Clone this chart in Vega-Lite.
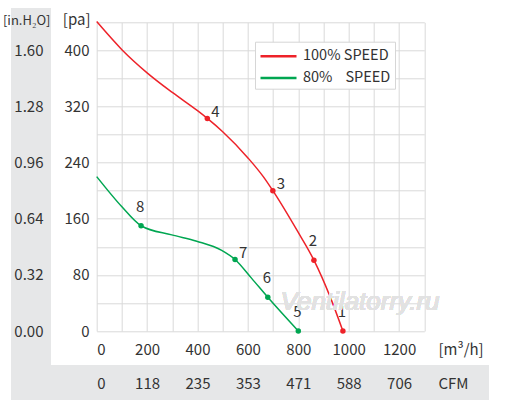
{
  "$schema": "https://vega.github.io/schema/vega-lite/v6.json",
  "width": 327.6,
  "height": 308.7,
  "autosize": {"type": "none"},
  "padding": {"left": 96.7, "top": 22.3, "right": 80.7, "bottom": 78},
  "background": "white",
  "data": {
    "values": [
      {"series": "100%", "flow": 0, "pa": 441, "label": null},
      {"series": "100%", "flow": 100, "pa": 401, "label": null},
      {"series": "100%", "flow": 200, "pa": 368, "label": null},
      {"series": "100%", "flow": 300, "pa": 340, "label": null},
      {"series": "100%", "flow": 400, "pa": 314, "label": null},
      {"series": "100%", "flow": 439, "pa": 303, "label": 4},
      {"series": "100%", "flow": 500, "pa": 284, "label": null},
      {"series": "100%", "flow": 602, "pa": 246, "label": null},
      {"series": "100%", "flow": 661, "pa": 220, "label": null},
      {"series": "100%", "flow": 699, "pa": 200, "label": 3},
      {"series": "100%", "flow": 794, "pa": 144, "label": null},
      {"series": "100%", "flow": 862, "pa": 101, "label": 2},
      {"series": "100%", "flow": 926, "pa": 49, "label": null},
      {"series": "100%", "flow": 977, "pa": 0, "label": 1},
      {"series": "80%", "flow": 0, "pa": 220, "label": null},
      {"series": "80%", "flow": 100, "pa": 177, "label": null},
      {"series": "80%", "flow": 176, "pa": 150, "label": 8},
      {"series": "80%", "flow": 298, "pa": 137, "label": null},
      {"series": "80%", "flow": 397, "pa": 128, "label": null},
      {"series": "80%", "flow": 496, "pa": 115, "label": null},
      {"series": "80%", "flow": 549, "pa": 102, "label": 7},
      {"series": "80%", "flow": 615, "pa": 75, "label": null},
      {"series": "80%", "flow": 679, "pa": 48, "label": 6},
      {"series": "80%", "flow": 800, "pa": 0, "label": 5}
    ]
  },
  "resolve": {"axis": {"x": "independent", "y": "independent"}},
  "layer": [
    {
      "mark": {"type": "rect", "clip": false, "color": "#e6e7e8"},
      "encoding": {
        "x": {"datum": -340.1, "type": "quantitative", "scale": {"domain": [0, 1300], "nice": false, "zero": false}, "axis": null},
        "x2": {"datum": -181.3},
        "y": {"datum": 460.4, "type": "quantitative", "scale": {"domain": [0, 440], "nice": false, "zero": false}, "axis": null},
        "y2": {"datum": -98.4}
      }
    },
    {
      "mark": {"type": "rect", "clip": false, "color": "#e6e7e8"},
      "encoding": {
        "x": {"datum": -181.3, "type": "quantitative", "scale": {"domain": [0, 1300], "nice": false, "zero": false}, "axis": null},
        "x2": {"datum": 1556.7},
        "y": {"datum": -48.5, "type": "quantitative", "scale": {"domain": [0, 440], "nice": false, "zero": false}, "axis": null},
        "y2": {"datum": -98.4}
      }
    },
    {
      "mark": {"type": "line", "interpolate": "monotone", "strokeWidth": 1.5},
      "encoding": {
        "x": {
          "field": "flow", "type": "quantitative",
          "scale": {"domain": [0, 1300], "nice": false, "zero": false},
          "axis": {
            "orient": "bottom",
            "values": [0, 100, 200, 300, 400, 500, 600, 700, 800, 900, 1000, 1100, 1200, 1300],
            "grid": true, "labels": false, "ticks": false, "domain": false, "title": null,
            "gridColor": "#d9d9d9", "gridWidth": 1, "zindex": 0
          }
        },
        "y": {
          "field": "pa", "type": "quantitative",
          "scale": {"domain": [0, 440], "nice": false, "zero": false},
          "axis": {
            "orient": "left",
            "values": [0, 40, 80, 120, 160, 200, 240, 280, 320, 360, 400, 440],
            "grid": true, "labels": false, "ticks": false, "domain": false, "title": null,
            "gridColor": "#d9d9d9", "gridWidth": 1, "zindex": 0
          }
        },
        "color": {
          "field": "series", "type": "nominal",
          "scale": {"domain": ["100%", "80%"], "range": ["#ee2229", "#00a651"]},
          "legend": {
            "title": null,
            "orient": "none",
            "legendX": 158.3,
            "legendY": 19.4,
            "symbolType": "M-1,0H3",
            "symbolSize": 324,
            "symbolStrokeWidth": 2.5,
            "labelFontSize": 14.5,
            "labelFont": "Noto Sans CJK SC",
            "labelColor": "#333333",
            "labelOffset": 23,
            "padding": 4,
            "rowPadding": 4.7,
            "strokeColor": "#d6d6d6",
            "fillColor": "white",
            "labelExpr": "datum.label == '100%' ? '100% SPEED' : '80%\u00a0\u00a0\u00a0 SPEED'"
          }
        }
      }
    },
    {
      "transform": [{"filter": "datum.label != null"}],
      "mark": {"type": "point", "filled": true, "size": 30, "opacity": 1},
      "encoding": {
        "x": {
          "field": "flow", "type": "quantitative",
          "scale": {"domain": [0, 1300], "nice": false, "zero": false},
          "axis": {
            "orient": "bottom",
            "values": [0, 200, 400, 600, 800, 1000, 1200],
            "format": "d",
            "grid": false, "ticks": false, "tickSize": 0, "domain": false,
            "labelPadding": 23.7, "labelBaseline": "alphabetic",
            "labelFontSize": 15, "labelFont": "Noto Sans CJK SC", "labelColor": "#333333",
            "title": "[m³/h]", "titleAngle": 0, "titleAlign": "left", "titleBaseline": "alphabetic",
            "titleX": 341.3, "titleY": 23.7, "titleFontSize": 15, "titleFontWeight": "normal",
            "titleFont": "Noto Sans CJK SC", "titleColor": "#333333", "zindex": 1
          }
        },
        "y": {
          "field": "pa", "type": "quantitative",
          "scale": {"domain": [0, 440], "nice": false, "zero": false},
          "axis": {
            "orient": "left",
            "values": [0, 80, 160, 240, 320, 400],
            "grid": false, "ticks": false, "tickSize": 0, "domain": false,
            "labelPadding": 7.7, "labelBaseline": "middle",
            "labelFontSize": 15, "labelFont": "Noto Sans CJK SC", "labelColor": "#333333",
            "title": "[pa]", "titleAngle": 0, "titleAlign": "right", "titleBaseline": "alphabetic",
            "titleX": -6.7, "titleY": 2.2, "titleFontSize": 15, "titleFontWeight": "normal",
            "titleFont": "Noto Sans CJK SC", "titleColor": "#333333", "zindex": 1
          }
        },
        "color": {"field": "series", "type": "nominal", "legend": null}
      }
    },
    {
      "transform": [{"filter": "indexof([3, 4, 7], datum.label) >= 0"}],
      "mark": {"type": "text", "dx": 8, "dy": -6.5, "align": "center", "baseline": "middle", "fontSize": 15, "font": "Noto Sans CJK SC", "color": "#333333"},
      "encoding": {
        "x": {
          "field": "flow", "type": "quantitative",
          "scale": {"domain": [0, 1300], "nice": false, "zero": false},
          "axis": {
            "orient": "bottom",
            "values": [0, 200, 400, 600, 800, 1000, 1200],
            "grid": false, "ticks": false, "tickSize": 0, "domain": false,
            "labelPadding": 57.3, "labelBaseline": "alphabetic",
            "labelFontSize": 15, "labelFont": "Noto Sans CJK SC", "labelColor": "#333333",
            "labelExpr": "['0', '118', '235', '353', '471', '588', '706'][datum.value / 200]",
            "title": "CFM", "titleAngle": 0, "titleAlign": "left", "titleBaseline": "alphabetic",
            "titleX": 341.3, "titleY": 57.3, "titleFontSize": 15, "titleFontWeight": "normal",
            "titleFont": "Noto Sans CJK SC", "titleColor": "#333333", "zindex": 1
          }
        },
        "y": {
          "field": "pa", "type": "quantitative",
          "scale": {"domain": [0, 440], "nice": false, "zero": false},
          "axis": {
            "orient": "left",
            "values": [0, 80, 160, 240, 320, 400],
            "grid": false, "ticks": false, "tickSize": 0, "domain": false,
            "labelPadding": 53.7, "labelBaseline": "middle",
            "labelFontSize": 15, "labelFont": "Noto Sans CJK SC", "labelColor": "#333333",
            "labelExpr": "format(datum.value * 0.004, '.2f')",
            "title": "[in.H₂O]", "titleAngle": 0, "titleAlign": "right", "titleBaseline": "alphabetic",
            "titleX": -46.7, "titleY": 2.2, "titleFontSize": 13, "titleFontWeight": "normal",
            "titleFont": "Noto Sans CJK SC", "titleColor": "#333333", "zindex": 1
          }
        },
        "text": {"field": "label", "type": "nominal"}
      }
    },
    {
      "transform": [{"filter": "datum.label != null && indexof([3, 4, 7], datum.label) < 0"}],
      "mark": {"type": "text", "dx": -1, "dy": -19, "align": "center", "baseline": "middle", "fontSize": 15, "font": "Noto Sans CJK SC", "color": "#333333"},
      "encoding": {
        "x": {"field": "flow", "type": "quantitative", "scale": {"domain": [0, 1300], "nice": false, "zero": false}, "axis": null},
        "y": {"field": "pa", "type": "quantitative", "scale": {"domain": [0, 440], "nice": false, "zero": false}, "axis": null},
        "text": {"field": "label", "type": "nominal"}
      }
    },
    {
      "mark": {"type": "text", "text": "Ventilatorry.ru", "align": "center", "baseline": "alphabetic", "fontSize": 26, "font": "Liberation Sans", "fontStyle": "italic", "color": "#e2e2e2", "clip": false},
      "encoding": {
        "x": {"datum": 1045, "type": "quantitative", "scale": {"domain": [0, 1300], "nice": false, "zero": false}, "axis": null},
        "y": {"datum": 30, "type": "quantitative", "scale": {"domain": [0, 440], "nice": false, "zero": false}, "axis": null}
      }
    }
  ],
  "config": {
    "view": {"stroke": null}
  }
}
